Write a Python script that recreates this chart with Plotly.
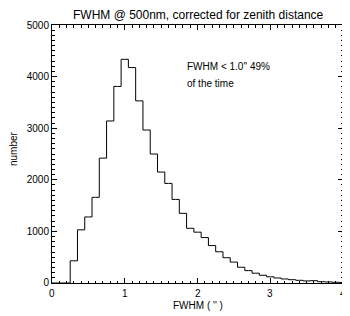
import plotly.graph_objects as go

# bin centers (arcsec) and counts
fwhm_centers = [round(0.1 * i, 1) for i in range(0, 41)]
counts = [0, 0, 0,
          430, 1030, 1280, 1660, 2420, 3140, 3810, 4335, 4175, 3530,
          2965, 2500, 2150, 1930, 1620, 1350, 1060, 985, 880, 725,
          605, 490, 405, 305, 240, 190, 150, 120, 97, 78,
          64, 52, 40, 45, 25, 20, 14, 10]

title_text = "FWHM @ 500nm, corrected for zenith distance"
x_title = "FWHM ( '' )"
y_title = "number"
note_lines = ["FWHM < 1.0'' 49%", "of the time"]
x_ticks = [0, 1, 2, 3, 4]
y_ticks = [0, 1000, 2000, 3000, 4000, 5000]

font_family = "Liberation Sans, Arial, sans-serif"

fig = go.Figure()
fig.add_trace(go.Scatter(
    x=fwhm_centers, y=counts, mode="lines",
    line=dict(shape="hvh", color="black", width=1),
    showlegend=False, hoverinfo="skip",
))

axis_common = dict(
    showline=True, linecolor="black", linewidth=1, mirror="allticks",
    ticks="inside", ticklen=5, tickwidth=1, tickcolor="black",
    showgrid=False, zeroline=False, automargin=False,
    tickfont=dict(family=font_family, size=10, color="black"),
)

txt_font = dict(family=font_family, size=10, color="black")

# x tick labels drawn as annotations at the tick values so the edge label "4" shows
fig.update_xaxes(
    range=[x_ticks[0], x_ticks[-1]], tickvals=x_ticks, ticktext=[""] * len(x_ticks),
    minor=dict(dtick=0.1, tick0=0, ticks="inside", ticklen=2.5, tickcolor="black", showgrid=False),
    **axis_common,
)
for v in x_ticks:
    fig.add_annotation(x=v, y=0, xref="x", yref="paper", text=str(v), showarrow=False,
                       xanchor="center", yanchor="top", yshift=-3, font=txt_font)

fig.update_yaxes(
    range=[-0.1, 5000.1], tickvals=y_ticks, ticktext=[str(v) for v in y_ticks],
    minor=dict(dtick=100, tick0=0, ticks="inside", ticklen=2.5, tickcolor="black", showgrid=False),
    **axis_common,
)

fig.add_annotation(x=0.5, y=-0.06, xref="paper", yref="paper", text=x_title,
                   showarrow=False, xanchor="center", yanchor="top", font=txt_font)
fig.add_annotation(x=-0.13, y=0.52, xref="paper", yref="paper", text=y_title,
                   showarrow=False, xanchor="center", yanchor="middle", textangle=-90,
                   font=txt_font)
fig.add_annotation(x=1.83, y=4190, xref="x", yref="y", text=note_lines[0],
                   showarrow=False, xanchor="left", yanchor="middle", font=txt_font)
fig.add_annotation(x=1.83, y=3860, xref="x", yref="y", text=note_lines[1],
                   showarrow=False, xanchor="left", yanchor="middle", font=txt_font)

# the page body has an 8px default margin; size the figure to fit the window
fig.update_layout(
    width=342, height=308,
    margin=dict(l=44, r=7, t=17, b=33),
    paper_bgcolor="white", plot_bgcolor="white",
    title=dict(text=title_text, x=0.556, xanchor="center", y=0.977, yanchor="middle",
               font=dict(family=font_family, size=12, color="black")),
)

fig.write_html("out.html")
